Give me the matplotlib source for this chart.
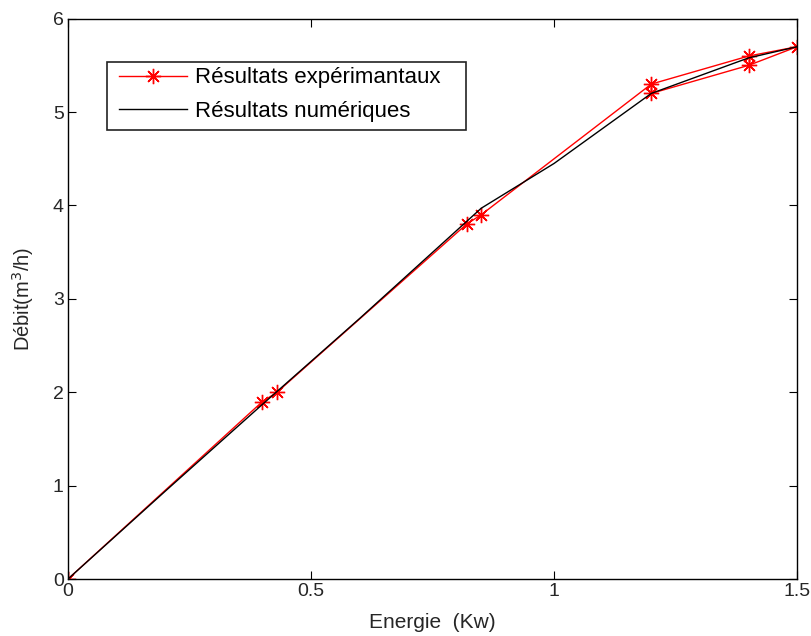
import matplotlib
matplotlib.use("Agg")
import matplotlib.pyplot as plt
from matplotlib.patches import Rectangle

# résultats expérimentaux (ordre tel que tracé)
x_exp = [0, 0.40, 0.43, 0.82, 0.85, 1.20, 1.40, 1.50, 1.40, 1.20]
y_exp = [0, 1.90, 2.00, 3.80, 3.90, 5.30, 5.60, 5.70, 5.50, 5.20]

# résultats numériques
x_num = [0, 0.2, 0.4, 0.6, 0.85, 1.0, 1.2, 1.4, 1.5]
y_num = [0, 0.94, 1.87, 2.79, 3.97, 4.45, 5.20, 5.58, 5.70]

xticks = [0, 0.5, 1, 1.5]
xticklabels = ["0", "0.5", "1", "1.5"]
yticks = [0, 1, 2, 3, 4, 5, 6]

plt.rcParams['font.family'] = ['Liberation Sans', 'DejaVu Sans']

fig = plt.figure(figsize=(8.12, 6.36), dpi=100)
ax = fig.add_axes([0.0837, 0.0896, 0.898, 0.881])

# astérisque façon matlab : 8 branches
ax.plot(x_exp, y_exp, color="red", linewidth=1.0, marker=(8, 2, 0), markersize=11,
        markeredgewidth=1.0, label="Résultats expérimantaux")
ax.plot(x_num, y_num, color="black", linewidth=1.0, label="Résultats numériques")

ax.set_xlim(0, 1.5)
ax.set_ylim(0, 6)
ax.set_xticks(xticks)
ax.set_xticklabels(xticklabels)
ax.set_yticks(yticks)
ax.tick_params(direction="in", top=True, right=True, labelsize=14, length=6, pad=3,
               labelcolor="#262626")
for s in ax.spines.values():
    s.set_linewidth(1.0)

ax.set_xlabel("Energie  (Kw)", fontsize=15, labelpad=9, color="#262626")
ax.set_ylabel("Débit(m$^3$/h)", fontsize=14.5, labelpad=12, color="#262626")

# cadre de la légende (plus large que le contenu, comme sous matlab)
ax.add_patch(Rectangle((0.0535, 0.802), 0.4925, 0.121, transform=ax.transAxes,
                       facecolor="white", edgecolor="#222222", linewidth=1.2, zorder=4))
leg = ax.legend(loc="upper left", bbox_to_anchor=(0.062, 0.923), fontsize=16,
                frameon=False, handlelength=3.05, handletextpad=0.36,
                borderpad=0.25, labelspacing=0.55, borderaxespad=0)
leg.set_zorder(5)

fig.savefig("out.png", dpi=100)
